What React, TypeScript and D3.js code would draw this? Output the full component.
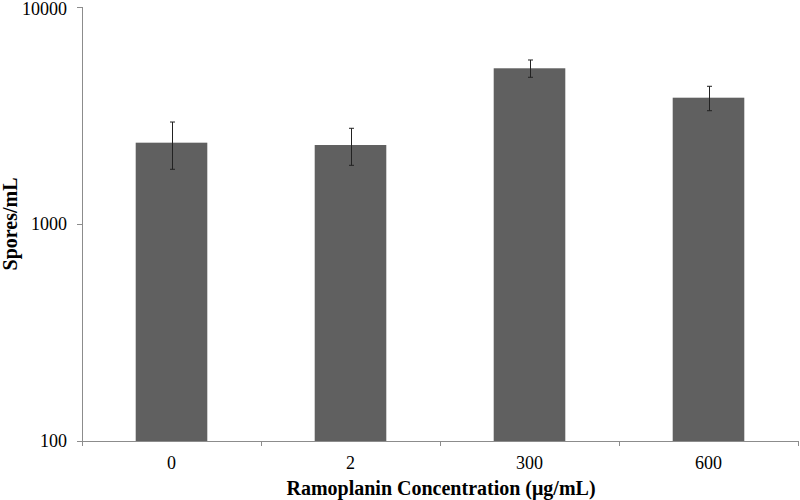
import React from "react";
import * as d3 from "d3";

const categories = ["0", "2", "300", "600"];
const values = [2370, 2312, 5219, 3820];
const errHigh = [2951, 2761, 5699, 4311];
const errLow = [1787, 1864, 4743, 3327];
const yTicks = [100, 1000, 10000];

export default function App() {
  const W = 800, H = 500;
  const left = 82, right = 798, top = 7, bottom = 441;
  const x = d3.scaleBand<string>().domain(categories).range([left, right]).paddingInner(0.6).paddingOuter(0.3);
  const y = d3.scaleLog().domain([100, 10000]).range([bottom, top]);
  const step = x.step();
  const bounds = d3.range(categories.length + 1).map((i) => left + i * step);
  const axisColor = "#8c8c8c";
  const font = "Liberation Serif";
  return (
    <svg width={W} height={H} style={{ position: "absolute", left: 0, top: 0 }} fontFamily={font}>
      <rect x={0} y={0} width={W} height={H} fill="#fff" />
      {categories.map((c, i) => (
        <rect key={c} x={x(c)} y={y(values[i])} width={x.bandwidth()} height={bottom - y(values[i])} fill="#606060" />
      ))}
      {categories.map((c, i) => {
        const cx = Math.round((x(c) as number) + x.bandwidth() / 2) + 0.5;
        return (
          <g key={"e" + c} stroke="#222" strokeWidth={1}>
            <line x1={cx} x2={cx} y1={y(errHigh[i])} y2={y(errLow[i])} />
            <line x1={cx - 2.5} x2={cx + 2.5} y1={y(errHigh[i])} y2={y(errHigh[i])} />
            <line x1={cx - 2.5} x2={cx + 2.5} y1={y(errLow[i])} y2={y(errLow[i])} />
          </g>
        );
      })}
      <line x1={left + 0.5} x2={left + 0.5} y1={top} y2={bottom} stroke={axisColor} />
      {yTicks.map((t) => (
        <g key={t}>
          <line x1={left - 5} x2={left} y1={y(t) + 0.5} y2={y(t) + 0.5} stroke={axisColor} />
          <text x={67} y={Math.max(y(t), 9)} dy="0.36em" textAnchor="end" fontSize={18}>{t}</text>
        </g>
      ))}
      <line x1={left} x2={right} y1={bottom + 0.5} y2={bottom + 0.5} stroke={axisColor} />
      {bounds.map((b, i) => (
        <line key={i} x1={Math.round(b) + 0.5} x2={Math.round(b) + 0.5} y1={bottom} y2={bottom + 5} stroke={axisColor} />
      ))}
      {categories.map((c) => (
        <text key={"t" + c} x={(x(c) as number) + x.bandwidth() / 2} y={469} textAnchor="middle" fontSize={18}>{c}</text>
      ))}
      <text x={441} y={495} textAnchor="middle" fontSize={20} fontWeight="bold">Ramoplanin Concentration (μg/mL)</text>
      <text transform={`translate(17, 224) rotate(-90)`} textAnchor="middle" fontSize={20} fontWeight="bold">Spores/mL</text>
    </svg>
  );
}
